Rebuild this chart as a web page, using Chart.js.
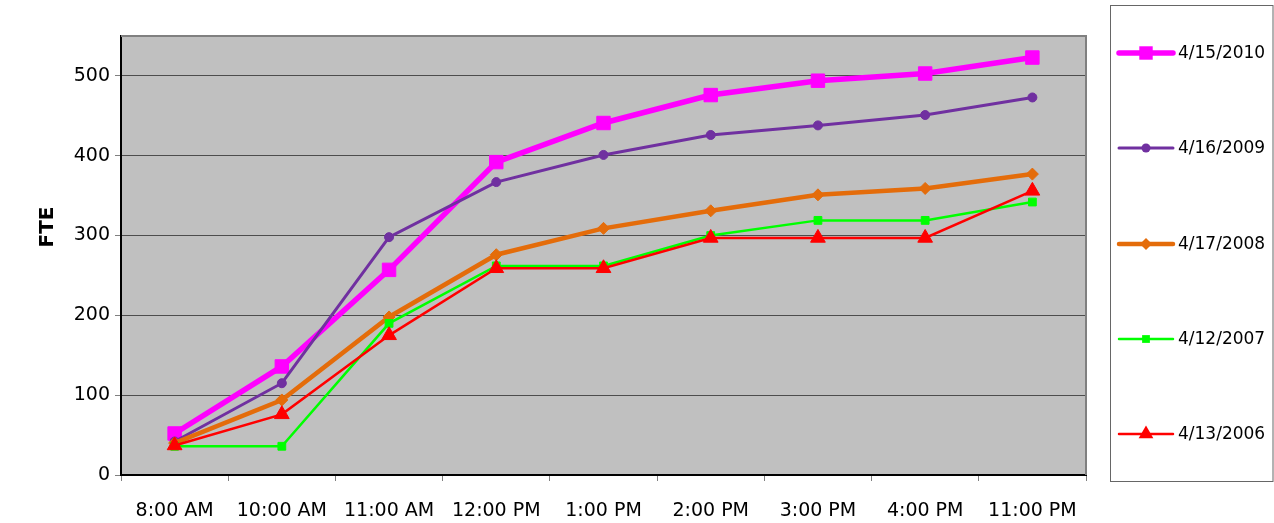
<!DOCTYPE html>
<html>
<head>
<meta charset="utf-8">
<script src="https://cdn.jsdelivr.net/npm/chart.js@4.4.0/dist/chart.umd.min.js"></script>
<style>
  html, body { margin: 0; padding: 0; background: #fff; }
  #wrap { width: 1274px; height: 523px; }
</style>
</head>
<body>
<div id="wrap"><canvas id="fte-chart" width="1274" height="523"></canvas></div>
<script>
// categories (time of day) and series
const timeLabels = ['8:00 AM', '10:00 AM', '11:00 AM', '12:00 PM', '1:00 PM', '2:00 PM', '3:00 PM', '4:00 PM', '11:00 PM'];
const seriesNames = ['4/15/2010', '4/16/2009', '4/17/2008', '4/12/2007', '4/13/2006'];

const fte2010 = [52, 136, 257, 392, 441, 476, 494, 503, 523];
const fte2009 = [42, 115, 298, 367, 401, 426, 438, 451, 473];
const fte2008 = [40, 94, 198, 276, 309, 331, 351, 359, 377];
const fte2007 = [36, 36, 190, 262, 262, 300, 319, 319, 342];
const fte2006 = [37, 76, 175, 259, 259, 297, 297, 297, 356];

const yTicksMax = 500;

Chart.defaults.font.family = "'DejaVu Sans', sans-serif";
Chart.defaults.color = '#000';

// marker shapes like chart.js uses, for the legend
function drawMarker(ctx, style, x, y, r) {
  ctx.beginPath();
  if (style === 'circle') {
    ctx.arc(x, y, r, 0, Math.PI * 2);
  } else if (style === 'rect') {
    const s = r * Math.SQRT1_2;
    ctx.rect(x - s, y - s, 2 * s, 2 * s);
  } else if (style === 'rectRot') {
    ctx.moveTo(x - r, y);
    ctx.lineTo(x, y - r);
    ctx.lineTo(x + r, y);
    ctx.lineTo(x, y + r);
    ctx.closePath();
  } else if (style === 'triangle') {
    const a = r * Math.sin(Math.PI / 3);
    ctx.moveTo(x, y - r);
    ctx.lineTo(x + a, y + r / 2);
    ctx.lineTo(x - a, y + r / 2);
    ctx.closePath();
  }
  ctx.fill();
}

const plotFrame = {
  id: 'plotFrame',
  beforeDraw(chart) {
    const { ctx, chartArea: a } = chart;
    ctx.save();
    ctx.fillStyle = '#C0C0C0';
    ctx.fillRect(a.left, a.top, a.right - a.left, a.bottom - a.top);
    ctx.restore();
  },
  beforeDatasetsDraw(chart) {
    const { ctx, chartArea: a } = chart;
    ctx.save();
    ctx.strokeStyle = '#808080';
    ctx.lineWidth = 2;
    ctx.beginPath();
    ctx.moveTo(a.left, a.top);
    ctx.lineTo(a.right, a.top);
    ctx.lineTo(a.right, a.bottom);
    ctx.stroke();
    ctx.restore();
  },
  afterDraw(chart) {
    const { ctx } = chart;
    // y axis title
    ctx.save();
    ctx.translate(48, 227);
    ctx.rotate(-Math.PI / 2);
    ctx.font = "bold 20px 'DejaVu Sans', sans-serif";
    ctx.fillStyle = '#000';
    ctx.textAlign = 'center';
    ctx.textBaseline = 'middle';
    ctx.fillText('FTE', 0, 0);
    ctx.restore();
  }
};

const boxLegend = {
  id: 'boxLegend',
  afterDraw(chart) {
    const ctx = chart.ctx;
    const left = 1110.5, top = 5.5, right = 1273, bottom = 481.5;
    ctx.save();
    ctx.strokeStyle = '#666';
    ctx.lineWidth = 1;
    ctx.strokeRect(left, top, right - left, bottom - top);
    const sets = chart.data.datasets;
    const step = (bottom - top) / sets.length;
    sets.forEach((ds, i) => {
      const y = Math.round(top + step * (i + 0.5));
      ctx.strokeStyle = ds.borderColor;
      ctx.lineWidth = ds.borderWidth;
      ctx.lineCap = 'round';
      ctx.beginPath();
      ctx.moveTo(1119, y);
      ctx.lineTo(1173, y);
      ctx.stroke();
      ctx.fillStyle = ds.borderColor;
      drawMarker(ctx, ds.pointStyle, 1146, y, ds.pointRadius);
      ctx.fillStyle = '#000';
      ctx.font = "17px 'DejaVu Sans', sans-serif";
      ctx.textAlign = 'left';
      ctx.textBaseline = 'middle';
      ctx.fillText(ds.label, 1178, y + 1);
    });
    ctx.restore();
  }
};

function series(label, data, color, width, style, radius, order) {
  return {
    label: label,
    data: data,
    borderColor: color,
    backgroundColor: color,
    borderWidth: width,
    pointStyle: style,
    pointRadius: radius,
    pointHoverRadius: radius,
    pointBorderWidth: 1,
    pointBackgroundColor: color,
    pointBorderColor: color,
    tension: 0,
    order: order
  };
}

new Chart(document.getElementById('fte-chart'), {
  type: 'line',
  data: {
    labels: timeLabels,
    datasets: [
      series(seriesNames[0], fte2010, '#FF00FF', 5.5, 'rect', 9.5, 5),
      series(seriesNames[1], fte2009, '#7030A0', 3, 'circle', 4.5, 4),
      series(seriesNames[2], fte2008, '#E46C0A', 4.5, 'rectRot', 6, 3),
      series(seriesNames[3], fte2007, '#00FF00', 2.5, 'rect', 5.5, 2),
      series(seriesNames[4], fte2006, '#FF0000', 2.5, 'triangle', 8.5, 1)
    ]
  },
  options: {
    responsive: false,
    animation: false,
    events: [],
    layout: { padding: { left: 0, top: 36, right: 188, bottom: 0 } },
    plugins: {
      legend: { display: false },
      tooltip: { enabled: false }
    },
    scales: {
      x: {
        offset: true,
        grid: { offset: true, drawOnChartArea: false, tickLength: 6, tickColor: '#808080' },
        border: { color: '#000', width: 2 },
        ticks: { font: { size: 19 }, padding: 19, maxRotation: 0, autoSkip: false, color: '#000' },
        afterFit(scale) { scale.height = 48; }
      },
      y: {
        min: 0,
        max: 550,
        grid: { color: '#4d4d4d', lineWidth: 1, tickLength: 6, tickColor: '#808080' },
        border: { color: '#000', width: 2 },
        ticks: { stepSize: 100, font: { size: 19 }, padding: 5, color: '#000' },
        afterBuildTicks(scale) {
          scale.ticks = scale.ticks.filter(t => t.value <= yTicksMax);
        },
        afterFit(scale) { scale.width = 121; }
      }
    }
  },
  plugins: [plotFrame, boxLegend]
});
</script>
</body>
</html>
